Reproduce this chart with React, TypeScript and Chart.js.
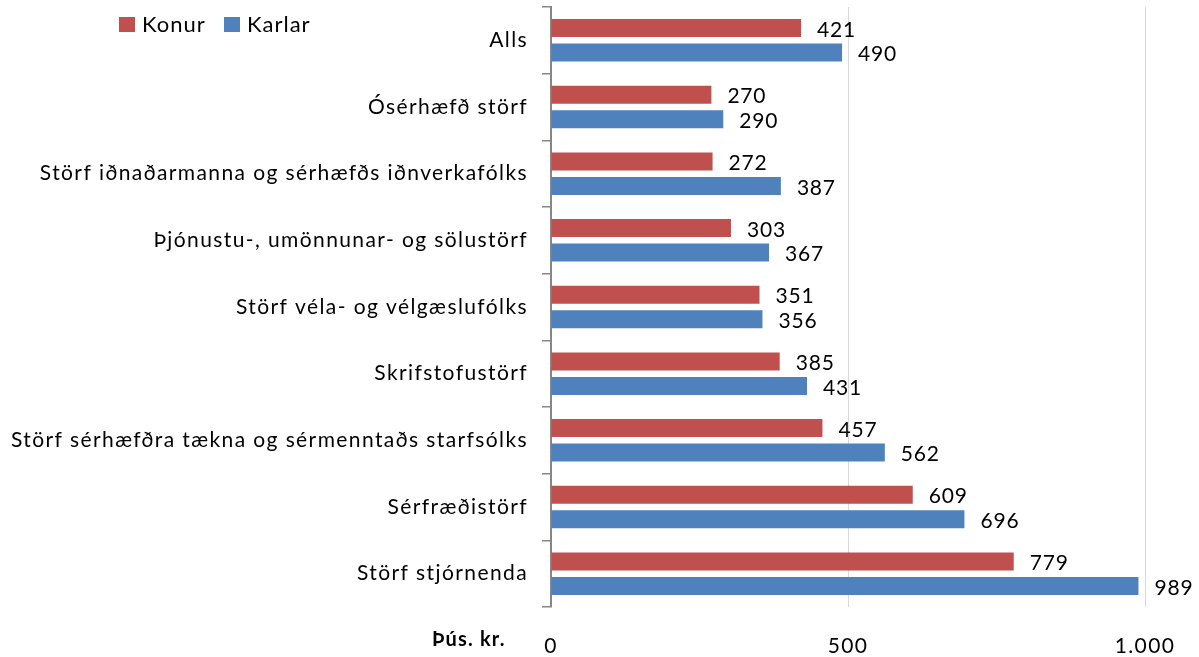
import React, { useEffect, useRef } from "react";
import { Chart, registerables } from "chart.js";

Chart.register(...registerables);

const categories = [
  "Alls",
  "Ósérhæfð störf",
  "Störf iðnaðarmanna og sérhæfðs iðnverkafólks",
  "Þjónustu-, umönnunar- og sölustörf",
  "Störf véla- og vélgæslufólks",
  "Skrifstofustörf",
  "Störf sérhæfðra tækna og sérmenntaðs starfsólks",
  "Sérfræðistörf",
  "Störf stjórnenda",
];
const konur = [421, 270, 272, 303, 351, 385, 457, 609, 779];
const karlar = [490, 290, 387, 367, 356, 431, 562, 696, 989];
const seriesNames = ["Konur", "Karlar"];
const xTicks = [0, 500, 1000];
const unitLabel = "Þús. kr.";

const RED = "#C0504D";
const BLUE = "#4F81BD";
const FONT = "Lato";

const fmt = (v: number) => String(v).replace(/\B(?=(\d{3})+(?!\d))/g, ".");

export default function App() {
  const ref = useRef<HTMLCanvasElement | null>(null);
  useEffect(() => {
    if (!ref.current) return;
    const labelPlugin = {
      id: "labels",
      beforeDraw(chart: any) {
        (chart.ctx as any).letterSpacing = "1.4px";
      },
      afterDatasetsDraw(chart: any) {
        const ctx = chart.ctx;
        ctx.save();
        ctx.letterSpacing = "0.8px";
        ctx.font = `21px ${FONT}`;
        ctx.fillStyle = "#000";
        ctx.textAlign = "left";
        ctx.textBaseline = "middle";
        chart.data.datasets.forEach((ds: any, di: number) => {
          const meta = chart.getDatasetMeta(di);
          meta.data.forEach((el: any, i: number) => {
            ctx.fillText(fmt(ds.data[i]), el.x + 16, el.y + 2);
          });
        });
        ctx.restore();
      },
      afterDraw(chart: any) {
        const ctx = chart.ctx;
        ctx.save();
        // legend
        const colors = [RED, BLUE];
        const xs = [119, 224];
        ctx.letterSpacing = "1px";
        ctx.font = `22px ${FONT}`;
        ctx.textBaseline = "alphabetic";
        ctx.textAlign = "left";
        seriesNames.forEach((n, i) => {
          ctx.fillStyle = colors[i];
          ctx.fillRect(xs[i], 17, 16, 15);
          ctx.fillStyle = "#000";
          ctx.fillText(n, xs[i] + 23, 32);
        });
        // unit label
        ctx.letterSpacing = "1.2px";
        ctx.font = `bold 20px ${FONT}`;
        ctx.textAlign = "left";
        ctx.textBaseline = "alphabetic";
        ctx.fillText(unitLabel, 432, 646);
        ctx.restore();
        ctx.letterSpacing = "0px";
      },
    };
    const chart = new Chart(ref.current, {
      type: "bar",
      data: {
        labels: categories,
        datasets: [
          {
            label: seriesNames[0],
            data: konur,
            backgroundColor: RED,
            categoryPercentage: 0.736,
            barPercentage: 0.735,
          },
          {
            label: seriesNames[1],
            data: karlar,
            backgroundColor: BLUE,
            categoryPercentage: 0.736,
            barPercentage: 0.735,
          },
        ],
      },
      options: {
        indexAxis: "y",
        animation: false,
        responsive: false,
        maintainAspectRatio: false,
        layout: { padding: { top: 7, right: 54, left: 0, bottom: 0 } },
        plugins: {
          legend: { display: false },
          tooltip: { enabled: false },
        },
        scales: {
          x: {
            min: 0,
            max: 1000,
            afterBuildTicks: (scale: any) => {
              scale.ticks = xTicks.map((v) => ({ value: v }));
            },
            afterFit: (scale: any) => {
              scale.height = 50;
              scale.paddingLeft = 0;
              scale.paddingRight = 0;
            },
            ticks: {
              callback: (v: any) => fmt(Number(v)),
              font: { family: FONT, size: 21 },
              color: "#000",
              padding: 27,
              maxRotation: 0,
            },
            grid: { color: "#D9D9D9", lineWidth: 1, drawTicks: false },
            border: { display: false },
          },
          y: {
            afterFit: (scale: any) => {
              scale.width = 551;
              scale.paddingTop = 0;
              scale.paddingBottom = 0;
            },
            ticks: {
              font: { family: FONT, size: 21 },
              color: "#000",
              padding: 14,
            },
            grid: {
              drawOnChartArea: false,
              drawTicks: true,
              tickLength: 9,
              color: "#868686",
              lineWidth: 1.5,
              offset: true,
            },
            border: { display: true, color: "#868686", width: 2 },
          },
        },
      },
      plugins: [labelPlugin],
    } as any);
    return () => chart.destroy();
  }, []);
  return (
    <div style={{ position: "absolute", left: 0, top: 0, width: 1199, height: 657 }}>
      <canvas ref={ref} width={1199} height={657} style={{ display: "block" }} />
    </div>
  );
}
